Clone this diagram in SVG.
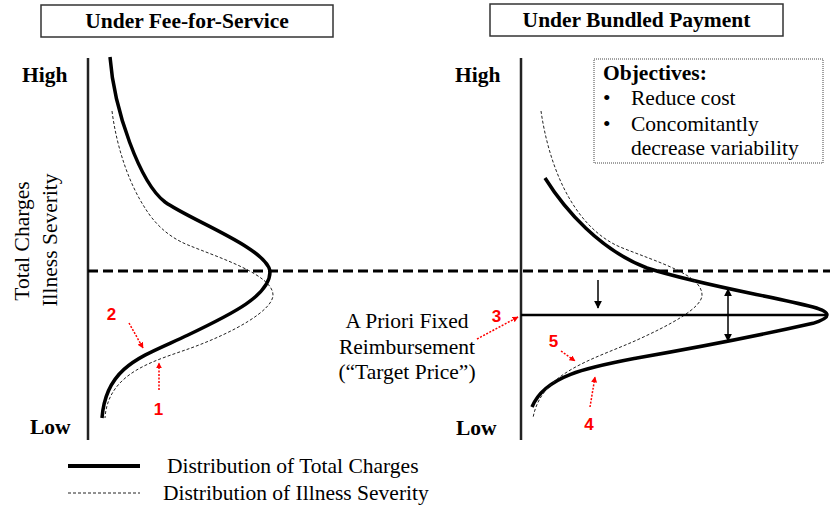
<svg xmlns="http://www.w3.org/2000/svg" width="830" height="505" viewBox="0 0 830 505">
<style>
.t{font-family:"Liberation Serif","Times New Roman",serif;font-size:21.5px;fill:#000}
.b{font-weight:bold}
.r{font-family:"Liberation Sans",Arial,sans-serif;font-size:17px;font-weight:bold;fill:#ff0000;text-anchor:middle}
.axis{stroke:#222;stroke-width:2.5;fill:none}
.box{fill:#fff;stroke:#333;stroke-width:1.5}
.solid{fill:none;stroke:#000;stroke-width:3.5;stroke-linecap:butt}
.dash{fill:none;stroke:#222;stroke-width:1;stroke-dasharray:3 2}
.red{fill:none;stroke:#ff0000;stroke-width:1.5;stroke-dasharray:2 1.5;marker-end:url(#rh)}
.blk{fill:none;stroke:#000;stroke-width:1.5}
</style>
<defs>
<marker id="rh" viewBox="0 0 10 10" refX="9" refY="5" markerWidth="6" markerHeight="6" markerUnits="userSpaceOnUse" orient="auto">
<path d="M0,0 L10,5 L0,10 z" fill="#ff0000"/>
</marker>
<marker id="bh" viewBox="0 0 10 10" refX="9" refY="5" markerWidth="8" markerHeight="8" markerUnits="userSpaceOnUse" orient="auto">
<path d="M0,0 L10,5 L0,10 z" fill="#000"/>
</marker>
<marker id="bt" viewBox="0 0 10 10" refX="1" refY="5" markerWidth="8" markerHeight="8" markerUnits="userSpaceOnUse" orient="auto">
<path d="M10,0 L0,5 L10,10 z" fill="#000"/>
</marker>
</defs>
<rect width="830" height="505" fill="#fff"/>

<g id="title-ffs">
<rect class="box" x="41" y="5" width="292" height="32"/>
<text class="t b" x="187" y="28" text-anchor="middle">Under Fee-for-Service</text>
</g>
<g id="title-bundled">
<rect class="box" x="490" y="4" width="293" height="32"/>
<text class="t b" x="636.5" y="27" text-anchor="middle">Under Bundled Payment</text>
</g>

<g id="y-labels">
<text class="t" transform="translate(29,241) rotate(-90)" text-anchor="middle">Total Charges</text>
<text class="t" transform="translate(57,240) rotate(-90)" text-anchor="middle">Illness Severity</text>
<text class="t b" x="22" y="82">High</text>
<text class="t b" x="30" y="434">Low</text>
<text class="t b" x="455" y="82">High</text>
<text class="t b" x="456" y="435">Low</text>
</g>

<g id="axes">
<line class="axis" x1="88" y1="58" x2="88" y2="440"/>
<line class="axis" x1="521" y1="58" x2="521" y2="440"/>
</g>

<g id="objectives">
<rect x="594" y="59" width="229" height="104" fill="#fff" stroke="#444" stroke-width="1" stroke-dasharray="1 1"/>
<text class="t b" x="603" y="80">Objectives:</text>
<text class="t" x="603" y="105">•</text>
<text class="t" x="631" y="105">Reduce cost</text>
<text class="t" x="603" y="131">•</text>
<text class="t" x="631" y="131">Concomitantly</text>
<text class="t" x="631" y="155">decrease variability</text>
</g>

<g id="target-price-label">
<text class="t" x="407" y="328" text-anchor="middle">A Priori Fixed</text>
<text class="t" x="407" y="354" text-anchor="middle">Reimbursement</text>
<text class="t" x="407" y="379" text-anchor="middle">(“Target Price”)</text>
</g>

<g id="curves">
<path id="ffs-charges" class="solid" d="M110,57 C114,110 140,183 165,202 C190,220 266,248 270,271 C271,295 232,314 188,335 C144,356 106,365 102,418"/>
<path id="ffs-severity" class="dash" d="M112,111 C117,150 130,185 145,208 C153,221 166,236 188,245 C220,258 273,275 273,295 C273,310 235,332 191,348 C155,361 108,372 105,418"/>
<path id="bp-charges" class="solid" d="M545,178 C565,210 600,250 647,268 C700,285 770,296 813,307 C822,309.5 827,312 827,315 C827,318 822,320.5 813,323.3 C770,333 700,347 637,358 C590,367 545,375 532,407"/>
<path id="bp-severity" class="dash" d="M541,111 C548,160 570,225 620,247 C660,263 702,275 702,295 C702,308 670,325 637,340 C595,359 541,372 533,418"/>
</g>

<g id="connectors">
<line x1="88" y1="271" x2="830" y2="271" stroke="#000" stroke-width="3" stroke-dasharray="10 5"/>
<line x1="521" y1="315" x2="827" y2="315" stroke="#000" stroke-width="2.5"/>
<line class="blk" x1="598" y1="280" x2="598" y2="308" marker-end="url(#bh)"/>
<line class="blk" x1="728" y1="289" x2="728" y2="341" marker-start="url(#bt)" marker-end="url(#bh)"/>
<line class="red" x1="129" y1="323" x2="143" y2="348"/>
<line class="red" x1="159" y1="390" x2="159" y2="363"/>
<line class="red" x1="477" y1="339" x2="518" y2="317"/>
<line class="red" x1="561" y1="351" x2="575" y2="361"/>
<line class="red" x1="590" y1="407" x2="595" y2="377"/>
</g>

<g id="markers">
<text class="r" x="111.5" y="320">2</text>
<text class="r" x="158.5" y="415">1</text>
<text class="r" x="496.5" y="322">3</text>
<text class="r" x="553.5" y="347">5</text>
<text class="r" x="589" y="430">4</text>
</g>

<g id="legend">
<line x1="68" y1="466" x2="140" y2="466" stroke="#000" stroke-width="4"/>
<text class="t" x="167" y="473">Distribution of Total Charges</text>
<line class="dash" x1="68" y1="493" x2="140" y2="493"/>
<text class="t" x="163" y="500">Distribution of Illness Severity</text>
</g>
</svg>
